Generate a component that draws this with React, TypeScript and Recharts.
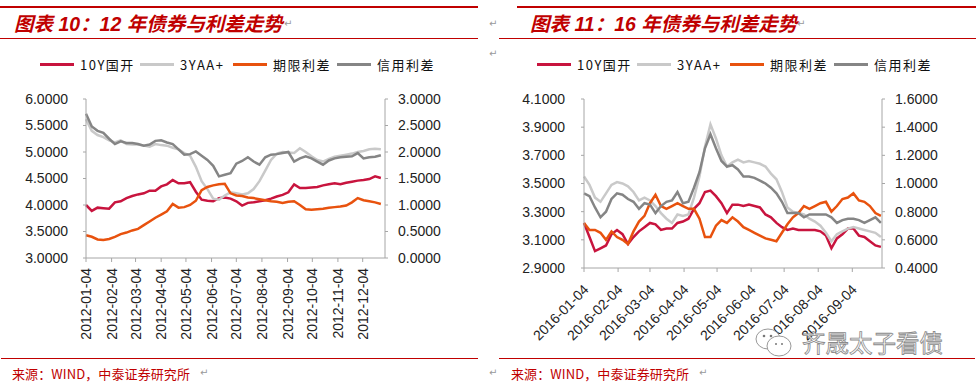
import React from 'react'
import { LineChart, Line, XAxis, YAxis } from 'recharts'

// ---- 2012 chart (weekly samples, day of year) ----
const DAYS_12 = Array.from({ length: 52 }, (_, i) => 4 + 7 * i)
const GK10_12 = [4.00, 3.89, 3.95, 3.94, 3.93, 4.05, 4.07, 4.13, 4.17, 4.20, 4.22, 4.27, 4.27, 4.35, 4.39, 4.47, 4.41, 4.41, 4.43, 4.25, 4.10, 4.08, 4.07, 4.13, 4.14, 4.12, 4.07, 3.99, 4.04, 4.05, 4.07, 4.09, 4.12, 4.16, 4.19, 4.24, 4.39, 4.32, 4.32, 4.33, 4.34, 4.37, 4.39, 4.41, 4.39, 4.42, 4.44, 4.46, 4.47, 4.49, 4.54, 4.51]
const AA3_12 = [5.62, 5.40, 5.32, 5.28, 5.22, 5.18, 5.22, 5.15, 5.14, 5.14, 5.12, 5.10, 5.15, 5.13, 5.12, 5.08, 5.05, 4.98, 4.93, 4.72, 4.45, 4.30, 4.12, 4.10, 4.18, 4.24, 4.22, 4.20, 4.22, 4.30, 4.45, 4.65, 4.85, 4.97, 5.00, 4.99, 4.98, 5.07, 5.00, 4.92, 4.85, 4.82, 4.87, 4.91, 4.93, 4.95, 4.97, 5.00, 5.02, 5.05, 5.06, 5.05]
const TERM_12 = [0.43, 0.40, 0.35, 0.34, 0.36, 0.40, 0.45, 0.48, 0.52, 0.55, 0.62, 0.69, 0.76, 0.82, 0.88, 1.02, 0.95, 0.96, 1.00, 1.08, 1.28, 1.34, 1.37, 1.39, 1.40, 1.22, 1.18, 1.17, 1.14, 1.13, 1.11, 1.09, 1.07, 1.06, 1.04, 1.06, 1.07, 1.00, 0.92, 0.91, 0.92, 0.93, 0.95, 0.96, 0.97, 0.99, 1.05, 1.13, 1.09, 1.07, 1.05, 1.02]
const CREDIT_12 = [2.72, 2.48, 2.40, 2.36, 2.25, 2.15, 2.20, 2.17, 2.17, 2.15, 2.12, 2.14, 2.21, 2.22, 2.18, 2.15, 2.05, 1.95, 1.96, 2.01, 1.93, 1.85, 1.74, 1.54, 1.57, 1.60, 1.78, 1.83, 1.90, 1.82, 1.76, 1.90, 1.95, 1.96, 1.98, 2.00, 1.82, 1.88, 1.92, 1.88, 1.82, 1.76, 1.84, 1.88, 1.90, 1.91, 1.92, 1.98, 1.88, 1.90, 1.91, 1.94]
const TICK_DAYS_12 = [4, 35, 64, 95, 125, 156, 186, 217, 248, 278, 309, 339]
const TICK_LABELS_12 = ['2012-01-04', '2012-02-04', '2012-03-04', '2012-04-04', '2012-05-04', '2012-06-04', '2012-07-04', '2012-08-04', '2012-09-04', '2012-10-04', '2012-11-04', '2012-12-04']
const LEFT_TICKS_12 = [3, 3.5, 4, 4.5, 5, 5.5, 6]
const RIGHT_TICKS_12 = [0, 0.5, 1, 1.5, 2, 2.5, 3]

// ---- 2016 chart (5-day samples, day of year) ----
const DAYS_16 = Array.from({ length: 55 }, (_, i) => 4 + 5 * i)
const GK10_16 = [3.22, 3.12, 3.02, 3.04, 3.06, 3.14, 3.17, 3.14, 3.07, 3.12, 3.16, 3.19, 3.22, 3.21, 3.17, 3.18, 3.18, 3.22, 3.23, 3.25, 3.32, 3.36, 3.44, 3.45, 3.41, 3.36, 3.29, 3.35, 3.35, 3.34, 3.35, 3.34, 3.33, 3.28, 3.26, 3.22, 3.19, 3.17, 3.18, 3.17, 3.17, 3.17, 3.17, 3.16, 3.13, 3.04, 3.11, 3.14, 3.18, 3.18, 3.13, 3.12, 3.09, 3.06, 3.05]
const AA3_16 = [3.55, 3.49, 3.40, 3.37, 3.43, 3.49, 3.51, 3.50, 3.48, 3.44, 3.38, 3.40, 3.38, 3.34, 3.29, 3.25, 3.22, 3.28, 3.27, 3.28, 3.40, 3.55, 3.76, 3.92, 3.82, 3.70, 3.62, 3.65, 3.67, 3.65, 3.66, 3.65, 3.64, 3.62, 3.57, 3.53, 3.44, 3.33, 3.30, 3.29, 3.28, 3.25, 3.23, 3.20, 3.15, 3.09, 3.14, 3.16, 3.18, 3.19, 3.18, 3.17, 3.16, 3.15, 3.12]
const TERM_16 = [0.72, 0.67, 0.67, 0.65, 0.60, 0.66, 0.62, 0.60, 0.57, 0.66, 0.73, 0.77, 0.86, 0.92, 0.84, 0.82, 0.84, 0.86, 0.84, 0.82, 0.82, 0.75, 0.62, 0.62, 0.70, 0.74, 0.72, 0.76, 0.73, 0.69, 0.67, 0.65, 0.63, 0.61, 0.60, 0.59, 0.65, 0.71, 0.76, 0.79, 0.84, 0.82, 0.84, 0.86, 0.87, 0.80, 0.84, 0.89, 0.90, 0.93, 0.88, 0.87, 0.84, 0.79, 0.77]
const CREDIT_16 = [0.93, 0.91, 0.83, 0.76, 0.80, 0.89, 0.93, 0.92, 0.89, 0.87, 0.82, 0.86, 0.85, 0.79, 0.84, 0.87, 0.88, 0.94, 0.86, 0.87, 0.97, 1.08, 1.25, 1.35, 1.25, 1.16, 1.12, 1.13, 1.10, 1.05, 1.05, 1.04, 1.02, 1.00, 0.97, 0.93, 0.87, 0.79, 0.79, 0.79, 0.76, 0.78, 0.78, 0.78, 0.78, 0.76, 0.72, 0.74, 0.75, 0.75, 0.74, 0.72, 0.74, 0.76, 0.72]
const TICK_DAYS_16 = [4, 35, 64, 95, 125, 156, 186, 217, 248]
const TICK_LABELS_16 = ['2016-01-04', '2016-02-04', '2016-03-04', '2016-04-04', '2016-05-04', '2016-06-04', '2016-07-04', '2016-08-04', '2016-09-04']
const LEFT_TICKS_16 = [2.9, 3.1, 3.3, 3.5, 3.7, 3.9, 4.1]
const RIGHT_TICKS_16 = [0.4, 0.6, 0.8, 1.0, 1.2, 1.4, 1.6]

const SERIES = ['10Y国开', '3YAA+', '期限利差', '信用利差']
const COLORS = ['#C8143E', '#C9C9C9', '#E8520E', '#858585']
const LEGEND_LEFT = [40, 140, 233, 337]

const RED = '#C00000'
const AXIS = '#A6A6A6'
const NUM_FONT = "'Liberation Sans', Arial, sans-serif"
const CJK_FONT = "'Noto Sans CJK SC', sans-serif"

const rows12 = DAYS_12.map((d, i) => ({ d, gk: GK10_12[i], aa: AA3_12[i], term: TERM_12[i], credit: CREDIT_12[i] }))
const rows16 = DAYS_16.map((d, i) => ({ d, gk: GK10_16[i], aa: AA3_16[i], term: TERM_16[i], credit: CREDIT_16[i] }))

const labelFor = (days: number[], labels: string[]) => (v: number) => labels[days.indexOf(v)] ?? ''

function Tick90({ x, y, payload, fmt }: any) {
  return (
    <text x={x} y={y} transform={`rotate(-90 ${x} ${y})`} textAnchor="end" dy="0.36em"
      fontSize={14} fontFamily={NUM_FONT} fill="#222">{fmt(payload.value)}</text>
  )
}

function Tick45({ x, y, payload, fmt }: any) {
  return (
    <text x={x + 2} y={y} transform={`rotate(-45 ${x + 2} ${y})`} textAnchor="end" dy="0.36em"
      fontSize={14} fontFamily={NUM_FONT} fill="#222">{fmt(payload.value)}</text>
  )
}

const tickStyle = { fill: '#222', fontSize: 14, fontFamily: NUM_FONT }

function Lines() {
  return (
    <>
      <Line yAxisId="l" dataKey="gk" stroke={COLORS[0]} strokeWidth={2.5} dot={false} isAnimationActive={false} />
      <Line yAxisId="l" dataKey="aa" stroke={COLORS[1]} strokeWidth={2.5} dot={false} isAnimationActive={false} />
      <Line yAxisId="r" dataKey="term" stroke={COLORS[2]} strokeWidth={2.5} dot={false} isAnimationActive={false} />
      <Line yAxisId="r" dataKey="credit" stroke={COLORS[3]} strokeWidth={2.5} dot={false} isAnimationActive={false} />
    </>
  )
}

function Legend({ shift }: { shift: number }) {
  return (
    <>
      {SERIES.map((name, i) => (
        <div key={name} style={{ position: 'absolute', left: LEGEND_LEFT[i] + shift, top: 56, height: 16, display: 'flex', alignItems: 'center' }}>
          <span style={{ width: 34, height: 3, background: COLORS[i], display: 'inline-block' }} />
          <span style={{ marginLeft: 6, fontSize: 13, letterSpacing: 1.5, fontFamily: CJK_FONT, color: '#111' }}>{name}</span>
        </div>
      ))}
    </>
  )
}

const mark = (left: number, top: number) => (
  <span style={{ position: 'absolute', left, top, fontSize: 10, color: '#999', fontFamily: 'DejaVu Sans' }}>↵</span>
)

function Header({ left, lineLeft, lineWidth, topLineLeft, topLineWidth, text }: any) {
  return (
    <>
      <div style={{ position: 'absolute', left: topLineLeft, top: 6, width: topLineWidth, height: 2, background: RED }} />
      <div style={{ position: 'absolute', left, top: 11, fontSize: 19.5, fontWeight: 'bold', fontStyle: 'italic', color: RED, fontFamily: `'Liberation Sans', ${CJK_FONT}`, whiteSpace: 'nowrap', lineHeight: '26px' }}>{text}</div>
      <div style={{ position: 'absolute', left: lineLeft, top: 38, width: lineWidth, height: 1, background: RED }} />
    </>
  )
}

const sourceStyle = { position: 'absolute' as const, top: 365, fontSize: 13, letterSpacing: 0.1, color: RED, fontFamily: CJK_FONT, whiteSpace: 'nowrap' as const, lineHeight: '18px' }

export default function App() {
  const fmt12 = labelFor(TICK_DAYS_12, TICK_LABELS_12)
  const fmt16 = labelFor(TICK_DAYS_16, TICK_LABELS_16)
  return (
    <div style={{ position: 'absolute', left: 0, top: 0, width: 976, height: 386, background: '#fff', overflow: 'hidden' }}>
      <Header left={14} lineLeft={0} lineWidth={478} topLineLeft={0} topLineWidth={478} text="图表 10：12 年债券与利差走势" />
      <Header left={530} lineLeft={499} lineWidth={477} topLineLeft={517} topLineWidth={459} text="图表 11：16 年债券与利差走势" />
      {mark(284, 18)}
      {mark(797, 18)}
      {mark(489, 18)}
      {mark(489, 48)}

      <Legend shift={0} />
      <Legend shift={497} />

      <div style={{ position: 'absolute', left: 0, top: 90 }}>
        <LineChart width={488} height={258} data={rows12} margin={{ top: 9, right: 0, bottom: 0, left: 0 }}>
          <XAxis dataKey="d" type="number" domain={[4, 366]} ticks={TICK_DAYS_12} interval={0} height={90}
            stroke={AXIS} tickSize={4} tickMargin={6} tick={<Tick90 fmt={fmt12} />} />
          <YAxis yAxisId="l" orientation="left" width={86} domain={[3, 6]} ticks={LEFT_TICKS_12} interval={0}
            stroke={AXIS} tickSize={3} tickMargin={15} tick={tickStyle} tickFormatter={(v: number) => v.toFixed(4)} />
          <YAxis yAxisId="r" orientation="right" width={103} domain={[0, 3]} ticks={RIGHT_TICKS_12} interval={0}
            stroke={AXIS} tickSize={3} tickMargin={10} tick={tickStyle} tickFormatter={(v: number) => v.toFixed(4)} />
          {Lines()}
        </LineChart>
      </div>

      <div style={{ position: 'absolute', left: 488, top: 90 }}>
        <LineChart width={488} height={268} data={rows16} margin={{ top: 9, right: 0, bottom: 0, left: 0 }}>
          <XAxis dataKey="d" type="number" domain={[4, 275]} ticks={TICK_DAYS_16} interval={0} height={90}
            stroke={AXIS} tickSize={4} tickMargin={15} tick={<Tick45 fmt={fmt16} />} />
          <YAxis yAxisId="l" orientation="left" width={96} domain={[2.9, 4.1]} ticks={LEFT_TICKS_16} interval={0}
            stroke={AXIS} tickSize={3} tickMargin={16} tick={tickStyle} tickFormatter={(v: number) => v.toFixed(4)} />
          <YAxis yAxisId="r" orientation="right" width={94} domain={[0.4, 1.6]} ticks={RIGHT_TICKS_16} interval={0}
            stroke={AXIS} tickSize={3} tickMargin={10} tick={tickStyle} tickFormatter={(v: number) => v.toFixed(4)} />
          {Lines()}
        </LineChart>
      </div>

      {/* watermark */}
      <svg style={{ position: 'absolute', left: 754, top: 326 }} width={190} height={34}>
        <ellipse cx={14} cy={13} rx={12} ry={10} fill="#fff" stroke="#999" strokeWidth={1} />
        <ellipse cx={25} cy={20} rx={12} ry={10} fill="#fff" stroke="#999" strokeWidth={1} />
        <circle cx={10} cy={10} r={1.3} fill="#777" />
        <circle cx={17} cy={10} r={1.3} fill="#777" />
        <circle cx={22} cy={18} r={1} fill="#777" />
        <circle cx={28} cy={18} r={1} fill="#777" />
        <text x={48} y={26} fontSize={23.5} fontFamily={CJK_FONT} fill="#fafafa" stroke="#8a8a8a" strokeWidth={0.8}>齐晟太子看债</text>
      </svg>

      <div style={{ position: 'absolute', left: 1, top: 358, width: 477, height: 1, background: RED }} />
      <div style={{ position: 'absolute', left: 499, top: 358, width: 476, height: 1, background: RED }} />
      <div style={{ ...sourceStyle, left: 12 }}>来源：WIND，中泰证券研究所</div>
      <div style={{ ...sourceStyle, left: 511 }}>来源：WIND，中泰证券研究所</div>
      {mark(200, 367)}
      {mark(489, 367)}
      {mark(699, 367)}
    </div>
  )
}
